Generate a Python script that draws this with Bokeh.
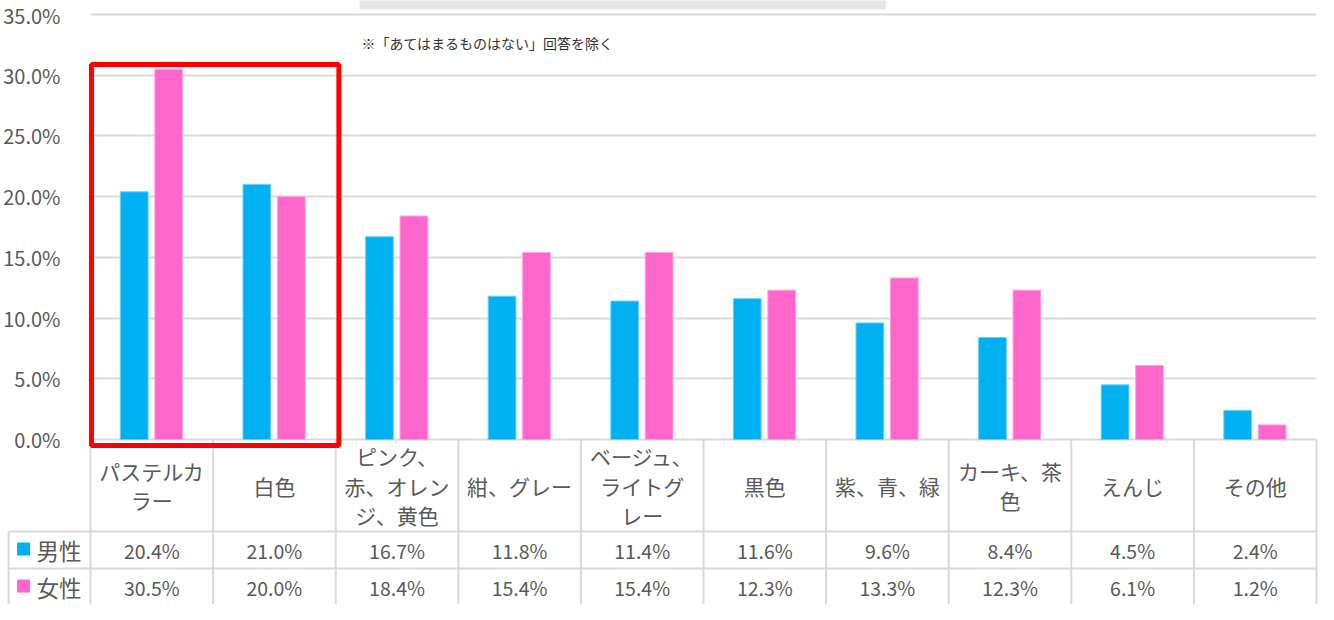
from bokeh.plotting import figure
from bokeh.models import Range1d, FixedTicker, PrintfTickFormatter, ColumnDataSource
from bokeh.core.properties import value
from bokeh.transform import dodge
from bokeh.embed import file_html
from bokeh.resources import INLINE

# ---------------- data ----------------
categories = ["パステルカラー", "白色", "ピンク、赤、オレンジ、黄色", "紺、グレー",
              "ベージュ、ライトグレー", "黒色", "紫、青、緑", "カーキ、茶色", "えんじ", "その他"]
category_labels = ["パステルカ\nラー", "白色", "ピンク、\n赤、オレン\nジ、黄色", "紺、グレー",
                   "ベージュ、\nライトグ\nレー", "黒色", "紫、青、緑", "カーキ、茶\n色", "えんじ", "その他"]
male = [20.4, 21.0, 16.7, 11.8, 11.4, 11.6, 9.6, 8.4, 4.5, 2.4]
female = [30.5, 20.0, 18.4, 15.4, 15.4, 12.3, 13.3, 12.3, 6.1, 1.2]
series_names = ["男性", "女性"]
series_colors = ["#00B0F0", "#FF66CC"]
series_edges = ["#66D0F6", "#FF9EDD"]
y_ticks = [0, 5, 10, 15, 20, 25, 30, 35]
note = "※「あてはまるものはない」回答を除く"
highlight = ["パステルカラー", "白色"]

# ---------------- layout constants ----------------
W, H = 1318, 604
FONT = value("Noto Sans CJK JP")
TXT = "#595959"
GRID = "#D9D9D9"
Y_TOP, Y_BOT = 36.153, -13.588
ROW1, ROW2 = -7.576, -10.623        # table horizontal rules
CAT_Y = -3.79                        # category label row centre
VAL_Y = [-9.10, -12.15]              # value rows centres
LEG_X = -0.668                       # left edge of legend column
SQ_X, SQ_HALF = -0.546, 0.053        # legend swatch centre / half width
NAME_X = -0.440                      # legend label left

n = len(categories)
xc = [i + 0.5 for i in range(n)]

p = figure(width=W, height=H, x_range=Range1d(0, n), y_range=Range1d(Y_BOT, Y_TOP),
           output_backend="svg", toolbar_location=None, x_axis_location=None,
           min_border_left=89, min_border_right=2, min_border_top=0, min_border_bottom=0)
p.outline_line_color = None
p.background_fill_color = "white"
p.border_fill_color = "white"

# y axis
p.yaxis.ticker = FixedTicker(ticks=y_ticks)
p.yaxis.formatter = PrintfTickFormatter(format="%.1f%%")
p.yaxis.axis_line_color = None
p.yaxis.major_tick_line_color = None
p.yaxis.minor_tick_line_color = None
p.yaxis.major_label_standoff = 24
p.yaxis.major_label_text_font = "Noto Sans CJK JP"
p.yaxis.major_label_text_font_size = "20px"
p.yaxis.major_label_text_color = TXT
p.ygrid.ticker = FixedTicker(ticks=y_ticks)
p.ygrid.grid_line_color = GRID
p.ygrid.grid_line_width = 2
p.xgrid.visible = False

# top grey strip (cropped text box) and note
p.quad(left=2.195, right=6.489, bottom=35.41, top=Y_TOP + 1, fill_color="#E6E6E6", line_color=None)
p.text(x=[2.211], y=[32.65], text=[note], text_font=FONT, text_font_size="14px",
       text_color="#333333", text_baseline="middle", text_align="left")

# bars
src = ColumnDataSource(dict(x=xc, male=male, female=female))
offs = [-0.143, 0.138]
for key, off, col, edge in zip(["male", "female"], offs, series_colors, series_edges):
    p.vbar(x=dodge("x", off, range=p.x_range), top=key, bottom=0, width=0.226, source=src,
           fill_color=col, line_color=edge, line_width=1)

# table lines
bounds = list(range(n + 1))
p.segment(x0=bounds, y0=[0] * len(bounds), x1=bounds, y1=[Y_BOT] * len(bounds),
          line_color=GRID, line_width=2, level="overlay")
p.segment(x0=[LEG_X, LEG_X], y0=[ROW1, ROW2], x1=[n, n], y1=[ROW1, ROW2],
          line_color=GRID, line_width=2, level="overlay")
p.segment(x0=[LEG_X], y0=[ROW1], x1=[LEG_X], y1=[Y_BOT],
          line_color=GRID, line_width=2, level="overlay")

# category labels
p.text(x=xc, y=[CAT_Y] * n, text=category_labels, text_font=FONT, text_font_size="21px",
       text_color=TXT, text_align="center", text_baseline="middle", text_line_height=0.97)

# values rows + legend column
for vals, yv, name, col in zip([male, female], VAL_Y, series_names, series_colors):
    p.text(x=xc, y=[yv] * n, text=[f"{v:.1f}%" for v in vals], text_font=FONT,
           text_font_size="19.5px", text_color=TXT, text_align="center", text_baseline="middle")
    p.segment(x0=[SQ_X - SQ_HALF], x1=[SQ_X + SQ_HALF], y0=[yv + 0.08], y1=[yv + 0.08],
              line_color=col, line_width=13, line_cap="butt", level="overlay")
    p.text(x=[NAME_X], y=[yv], text=[name], text_font=FONT, text_font_size="22.5px",
           text_color=TXT, text_align="left", text_baseline="middle", level="overlay")

# red highlight box around the first two categories
hi = [categories.index(c) for c in highlight]
p.quad(left=[min(hi) + 0.008], right=[max(hi) + 1.026], top=[30.88], bottom=[-0.494],
       fill_color=None, line_color="#FF0000", line_width=5, level="overlay")

open("out.html", "w").write(file_html(p, INLINE))
